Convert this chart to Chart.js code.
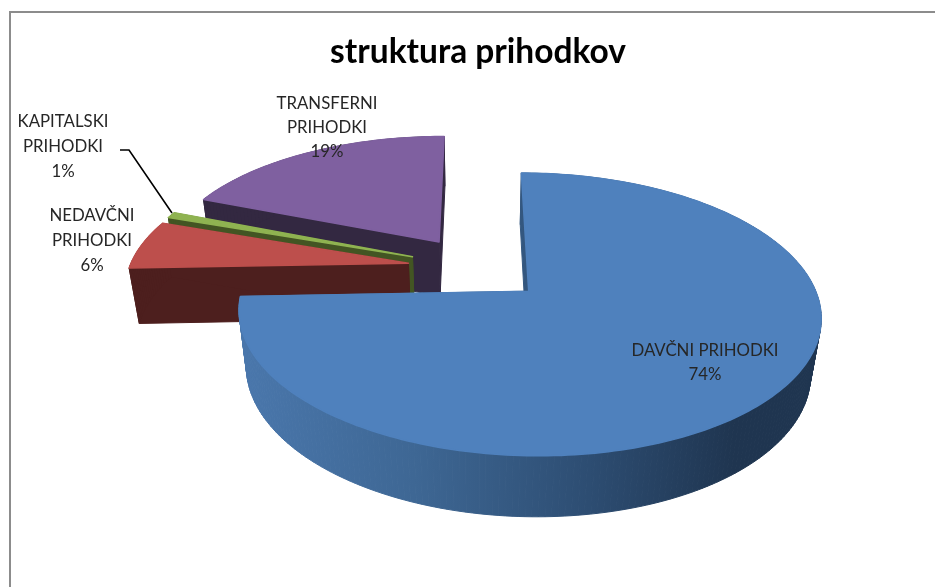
<!DOCTYPE html>
<html>
<head>
<meta charset="utf-8">
<style>
html,body{margin:0;padding:0;background:#fff;overflow:hidden;width:935px;height:587px}
#frame{position:absolute;left:9px;top:11px;width:940px;height:580px;border-left:2px solid #8c8c8c;border-top:2px solid #8c8c8c;overflow:hidden}
#wrap{position:absolute;left:0;top:0;width:934px;height:574px}
</style>
<script src="https://cdn.jsdelivr.net/npm/chart.js@4/dist/chart.umd.min.js"></script>
</head>
<body>
<div id="frame"><div id="wrap"><canvas id="c"></canvas></div></div>
<script>
const titleText = "struktura prihodkov";
const categories = ["DAVČNI PRIHODKI", "NEDAVČNI PRIHODKI", "KAPITALSKI PRIHODKI", "TRANSFERNI PRIHODKI"];
const shares = [74.4, 5.9, 0.7, 19.0];
const topColors = ["#4F81BD", "#BD4F4C", "#8FB351", "#7F60A0"];
const wallColors = ["#1F3550", "#4D1F1E", "#435523", "#332841"];
const labelLines = [["DAVČNI PRIHODKI", "74%"], ["NEDAVČNI", "PRIHODKI", "6%"], ["KAPITALSKI", "PRIHODKI", "1%"], ["TRANSFERNI", "PRIHODKI", "19%"]];

const OX = 11, OY = 13; // canvas origin on the page
const EXPLODE = 0.25;   // slice explosion, as a share of the radius
const view = {x0: 477, y0: 268, a: 130, b: 279, k: 0.16, m: 0.03, e: 57};
function project(X, Y, Z) {
  const w = 1 - view.k * Y + view.m * Z;
  return [view.x0 - OX + view.b * X / w, view.y0 - OY + (view.a * Y + view.e * Z) / w];
}
const labelPos = [[705, 351, 24], [92, 216, 25], [63, 122, 25], [327, 104, 24]];
const drawOrder = [3, 2, 1, 0];

const pie3d = {
  id: "pie3d",
  beforeDatasetsDraw(chart) {
    const ctx = chart.ctx, arcs = chart.getDatasetMeta(0).data;
    ctx.save();
    ctx.lineJoin = "round";
    for (const i of drawOrder) {
      const el = arcs[i];
      const s = el.startAngle, e = el.endAngle, mid = (s + e) / 2;
      const ox = EXPLODE * Math.cos(mid), oy = EXPLODE * Math.sin(mid);
      const n = Math.max(3, Math.ceil((e - s) / 0.02));
      const poly = [[ox, oy]];
      for (let j = 0; j <= n; j++) {
        const t = s + (e - s) * j / n;
        poly.push([ox + Math.cos(t), oy + Math.sin(t)]);
      }
      let wall = wallColors[i];
      if (i === 0) {
        const g = ctx.createLinearGradient(240 - OX, 0, 822 - OX, 0);
        g.addColorStop(0, "#4A77AC");
        g.addColorStop(0.3, "#3E6794");
        g.addColorStop(0.6, "#2D4D72");
        g.addColorStop(0.85, "#1F3550");
        g.addColorStop(1, "#1F3550");
        wall = g;
      }
      ctx.fillStyle = wall; ctx.strokeStyle = wall; ctx.lineWidth = 1;
      for (let j = 0; j < poly.length; j++) {
        const p = poly[j], q = poly[(j + 1) % poly.length];
        const a1 = project(p[0], p[1], 0), a2 = project(q[0], q[1], 0);
        const b2 = project(q[0], q[1], 1), b1 = project(p[0], p[1], 1);
        ctx.beginPath();
        ctx.moveTo(a1[0], a1[1]); ctx.lineTo(a2[0], a2[1]);
        ctx.lineTo(b2[0], b2[1]); ctx.lineTo(b1[0], b1[1]);
        ctx.closePath(); ctx.fill(); ctx.stroke();
      }
      ctx.fillStyle = topColors[i]; ctx.strokeStyle = topColors[i]; ctx.lineWidth = 1.5;
      ctx.beginPath();
      poly.forEach((p, j) => {
        const a = project(p[0], p[1], 0);
        if (j) ctx.lineTo(a[0], a[1]); else ctx.moveTo(a[0], a[1]);
      });
      ctx.closePath(); ctx.fill(); ctx.stroke();
    }
    ctx.restore();
    return false;
  },
  afterDraw(chart) {
    const ctx = chart.ctx;
    ctx.save();
    ctx.strokeStyle = "#000"; ctx.lineWidth = 1.6;
    ctx.beginPath();
    ctx.moveTo(120 - OX, 150 - OY); ctx.lineTo(129 - OX, 150 - OY); ctx.lineTo(172 - OX, 213 - OY);
    ctx.stroke();
    ctx.fillStyle = "#262626";
    ctx.font = "16.8px Lato";
    ctx.textAlign = "center"; ctx.textBaseline = "middle";
    labelLines.forEach((lines, i) => {
      const [x, y, step] = labelPos[i];
      lines.forEach((t, j) => ctx.fillText(t, x - OX, y - OY + j * step));
    });
    ctx.restore();
  }
};

new Chart(document.getElementById("c"), {
  type: "pie",
  data: {
    labels: categories,
    datasets: [{data: shares, backgroundColor: topColors, borderWidth: 0, offset: 40, radius: 200}]
  },
  plugins: [pie3d],
  options: {
    responsive: true,
    maintainAspectRatio: false,
    animation: false,
    layout: {padding: 0},
    plugins: {
      legend: {display: false},
      tooltip: {enabled: false},
      title: {display: true, text: titleText, color: "#000", font: {family: "Lato", size: 33.5, weight: "bold"}, padding: {top: 19, bottom: 10}}
    }
  }
});
</script>
</body>
</html>
